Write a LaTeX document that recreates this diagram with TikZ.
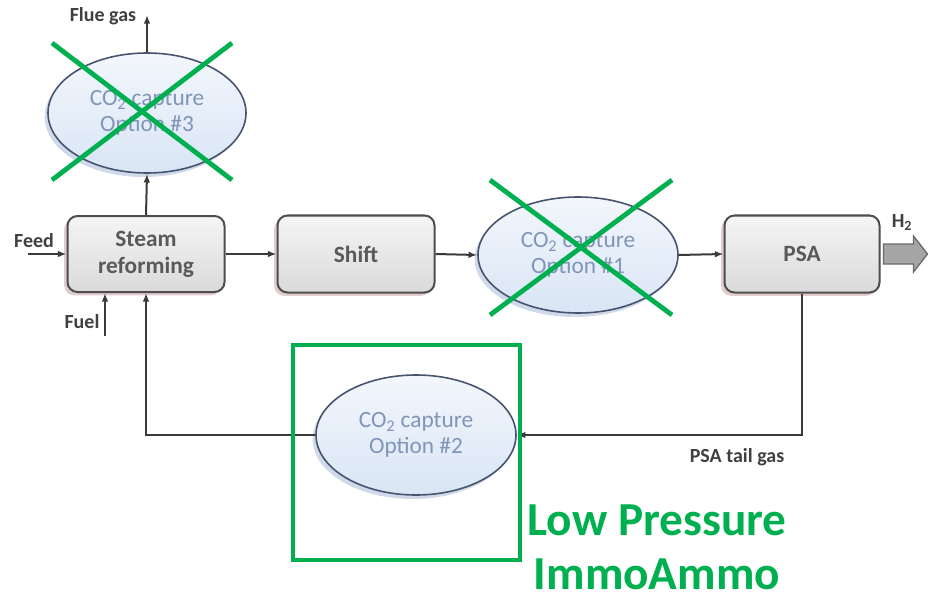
\documentclass[tikz,border=0pt]{standalone}
\usepackage{fontspec}
\setmainfont{Carlito}
\usetikzlibrary{shapes.geometric,shadows,arrows.meta,calc}

\definecolor{ink}{HTML}{3A3A3A}
\definecolor{taggray}{HTML}{404040}
\definecolor{boxtext}{HTML}{595959}
\definecolor{boxedge}{HTML}{4D4D4D}
\definecolor{boxtop}{HTML}{F5F5F5}
\definecolor{boxbottom}{HTML}{DADADA}
\definecolor{boxshadow}{HTML}{C8A2A6}
\definecolor{elltop}{HTML}{F3F7FC}
\definecolor{ellbottom}{HTML}{D9E5F5}
\definecolor{elledge}{HTML}{46546F}
\definecolor{elltext}{HTML}{8095B8}
\definecolor{ellshadow}{HTML}{9FB4D6}
\definecolor{xgreen}{HTML}{00B050}
\definecolor{arrowfill}{HTML}{A6A6A6}
\definecolor{arrowedge}{HTML}{6B6B6B}

\tikzset{
  unitbox/.style={rectangle, rounded corners=7.5pt, draw=boxedge, line width=1.5pt,
    top color=boxtop, bottom color=boxbottom, text=boxtext,
    font=\fontsize{17.5}{20}\selectfont\bfseries, align=center, inner sep=0pt,
    drop shadow={shadow xshift=-2.5pt, shadow yshift=-2.5pt, fill=boxshadow, opacity=0.55}},
  capture/.style={ellipse, draw=elledge, line width=1.2pt,
    top color=elltop, bottom color=ellbottom, text=elltext,
    font=\fontsize{17.5}{19.5}\selectfont, align=center, inner sep=0pt,
    drop shadow={shadow xshift=-2.5pt, shadow yshift=-3pt, fill=ellshadow, opacity=0.5}},
  flow/.style={draw=ink, line width=1.5pt, -{Latex[length=6.5pt,width=5pt]}},
  streamtag/.style={text=taggray, font=\fontsize{15}{17}\selectfont\bfseries, inner sep=0pt},
  cross/.style={draw=xgreen, line width=3.6pt},
  frame/.style={draw=xgreen, line width=3pt, inner sep=0pt},
  headline/.style={text=xgreen, font=\fontsize{35.5}{40}\selectfont\bfseries, inner sep=0pt, anchor=base}
}

\begin{document}
\begin{tikzpicture}[x=0.75pt, y=-0.75pt]
  \useasboundingbox (0,0) rectangle (928,599);

  % process units
  \node[unitbox, minimum width=117.75pt, minimum height=57pt] (sr) at (146,254) {Steam\\reforming};
  \node[unitbox, minimum width=117.75pt, minimum height=57.75pt] (shift) at (356,254) {Shift};
  \node[unitbox, minimum width=116.25pt, minimum height=57.75pt] (psa) at (802,254) {PSA};

  % capture options
  \node[capture, minimum width=148.5pt, minimum height=90pt] (opt3) at (147,113) {CO\textsubscript{2} capture\\Option \#3};
  \node[capture, minimum width=150pt, minimum height=87pt] (opt1) at (578,255) {CO\textsubscript{2} capture\\Option \#1};
  \node[capture, minimum width=150pt, minimum height=90pt] (opt2) at (416,435) {CO\textsubscript{2} capture\\Option \#2};

  % free stream ends
  \coordinate (flue) at (147,15);
  \coordinate (feedin) at (28,254);
  \coordinate (fuelin) at (105,336);

  % streams
  \draw[flow] (sr.north) -- (opt3.south);
  \draw[flow] (opt3.north) -- (flue);
  \draw[flow] (feedin) -- (feedin -| sr.west);
  \draw[flow] (fuelin) -- (fuelin |- sr.south);
  \draw[flow] (sr.east) -- (shift.west);
  \draw[flow] (shift.east) -- (opt1.west);
  \draw[flow] (opt1.east) -- (psa.west);
  \draw[flow] (psa.south) |- (opt2.east);
  \draw[flow] (opt2.west) -| (sr.south);

  % hydrogen product arrow
  \draw[fill=arrowfill, draw=arrowedge, line width=1pt]
    ($(psa.east)+(3,-10)$) -- ($(psa.east)+(33,-10)$) -- ($(psa.east)+(33,-18)$)
    -- ($(psa.east)+(47,0)$) -- ($(psa.east)+(33,18)$) -- ($(psa.east)+(33,10)$)
    -- ($(psa.east)+(3,10)$) -- cycle;

  % stream names
  \node[streamtag, anchor=base] (tflue) at (103,22) {Flue gas};
  \node[streamtag, anchor=base] (tfeed) at (34,247) {Feed};
  \node[streamtag, anchor=base] (tfuel) at (82,328) {Fuel};
  \node[streamtag, anchor=base] (ttail) at (737,462) {PSA tail gas};
  \node[streamtag, anchor=base] (th2) at (902,228) {H\textsubscript{2}};

  % rejected options
  \draw[cross] (52,43) -- (232,180);
  \draw[cross] (232,43) -- (52,180);
  \draw[cross] (490,180) -- (672,315);
  \draw[cross] (672,180) -- (490,315);

  % selected option
  \node[frame, minimum width=170.25pt, minimum height=161.25pt] (pick) at (406.5,452.5) {};
  \node[headline] (lp1) at (657,535) {Low Pressure};
  \node[headline] (lp2) at (657,589) {ImmoAmmo};
\end{tikzpicture}
\end{document}
